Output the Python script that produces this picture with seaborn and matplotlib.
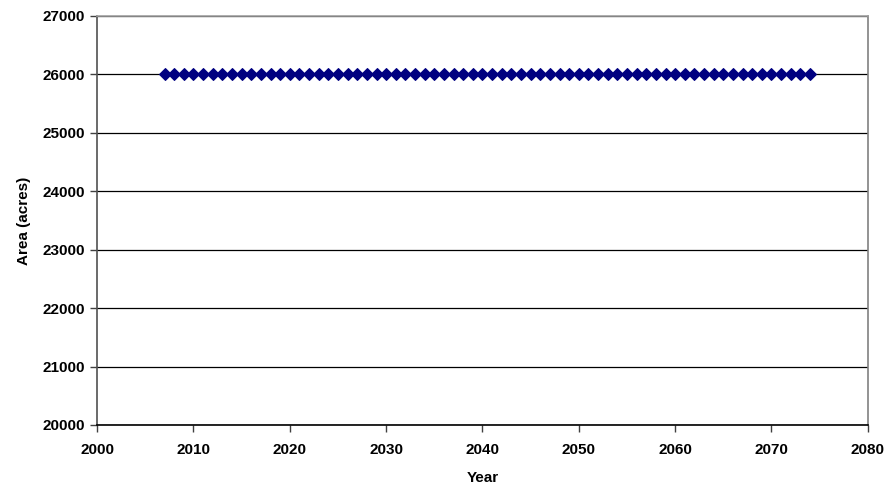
import pandas as pd
import matplotlib
matplotlib.use('Agg')
import matplotlib.pyplot as plt
import seaborn as sns

years = list(range(2007, 2075))
area = [26000] * len(years)

data = pd.DataFrame({'Year': years, 'Area': area})

sns.set_style('white')
plt.rcParams['font.family'] = ['Liberation Sans', 'DejaVu Sans']
plt.rcParams['font.weight'] = 'bold'
plt.rcParams['text.color'] = 'black'
plt.rcParams['axes.labelcolor'] = 'black'
plt.rcParams['xtick.color'] = 'black'
plt.rcParams['ytick.color'] = 'black'

fig = plt.figure(figsize=(8.91, 4.97), dpi=100)
ax = fig.add_axes([0.109, 0.145, 0.865, 0.823])
sns.lineplot(x='Year', y='Area', data=data, ax=ax, color='#000080', marker='D',
             markersize=6.5, markeredgecolor='#000080', linewidth=1.5)

ax.set_xlim(2000, 2080)
ax.set_ylim(20000, 27000)
ax.set_xticks(range(2000, 2081, 10))
ax.set_yticks(range(20000, 27001, 1000))
ax.yaxis.grid(True, color='black', linewidth=0.9)
ax.set_axisbelow(True)
ax.spines['left'].set_color('#505050')
ax.spines['bottom'].set_color('black')
ax.spines['right'].set_color('#808080')
ax.spines['top'].set_color('#a0a0a0')
for side in ['left', 'bottom', 'right', 'top']:
    ax.spines[side].set_linewidth(1.2)
ax.tick_params(axis='both', direction='out', length=5, width=1, color='#404040',
               labelsize=11, left=True, bottom=True)
ax.tick_params(axis='x', pad=8)
ax.tick_params(axis='y', pad=4)
for lbl in ax.get_xticklabels() + ax.get_yticklabels():
    lbl.set_fontweight('bold')
ax.set_xlabel('Year', fontsize=11, fontweight='bold', labelpad=10)
ax.set_ylabel('Area (acres)', fontsize=11, fontweight='bold', labelpad=8)

fig.savefig('out.png', dpi=100, facecolor='white')
